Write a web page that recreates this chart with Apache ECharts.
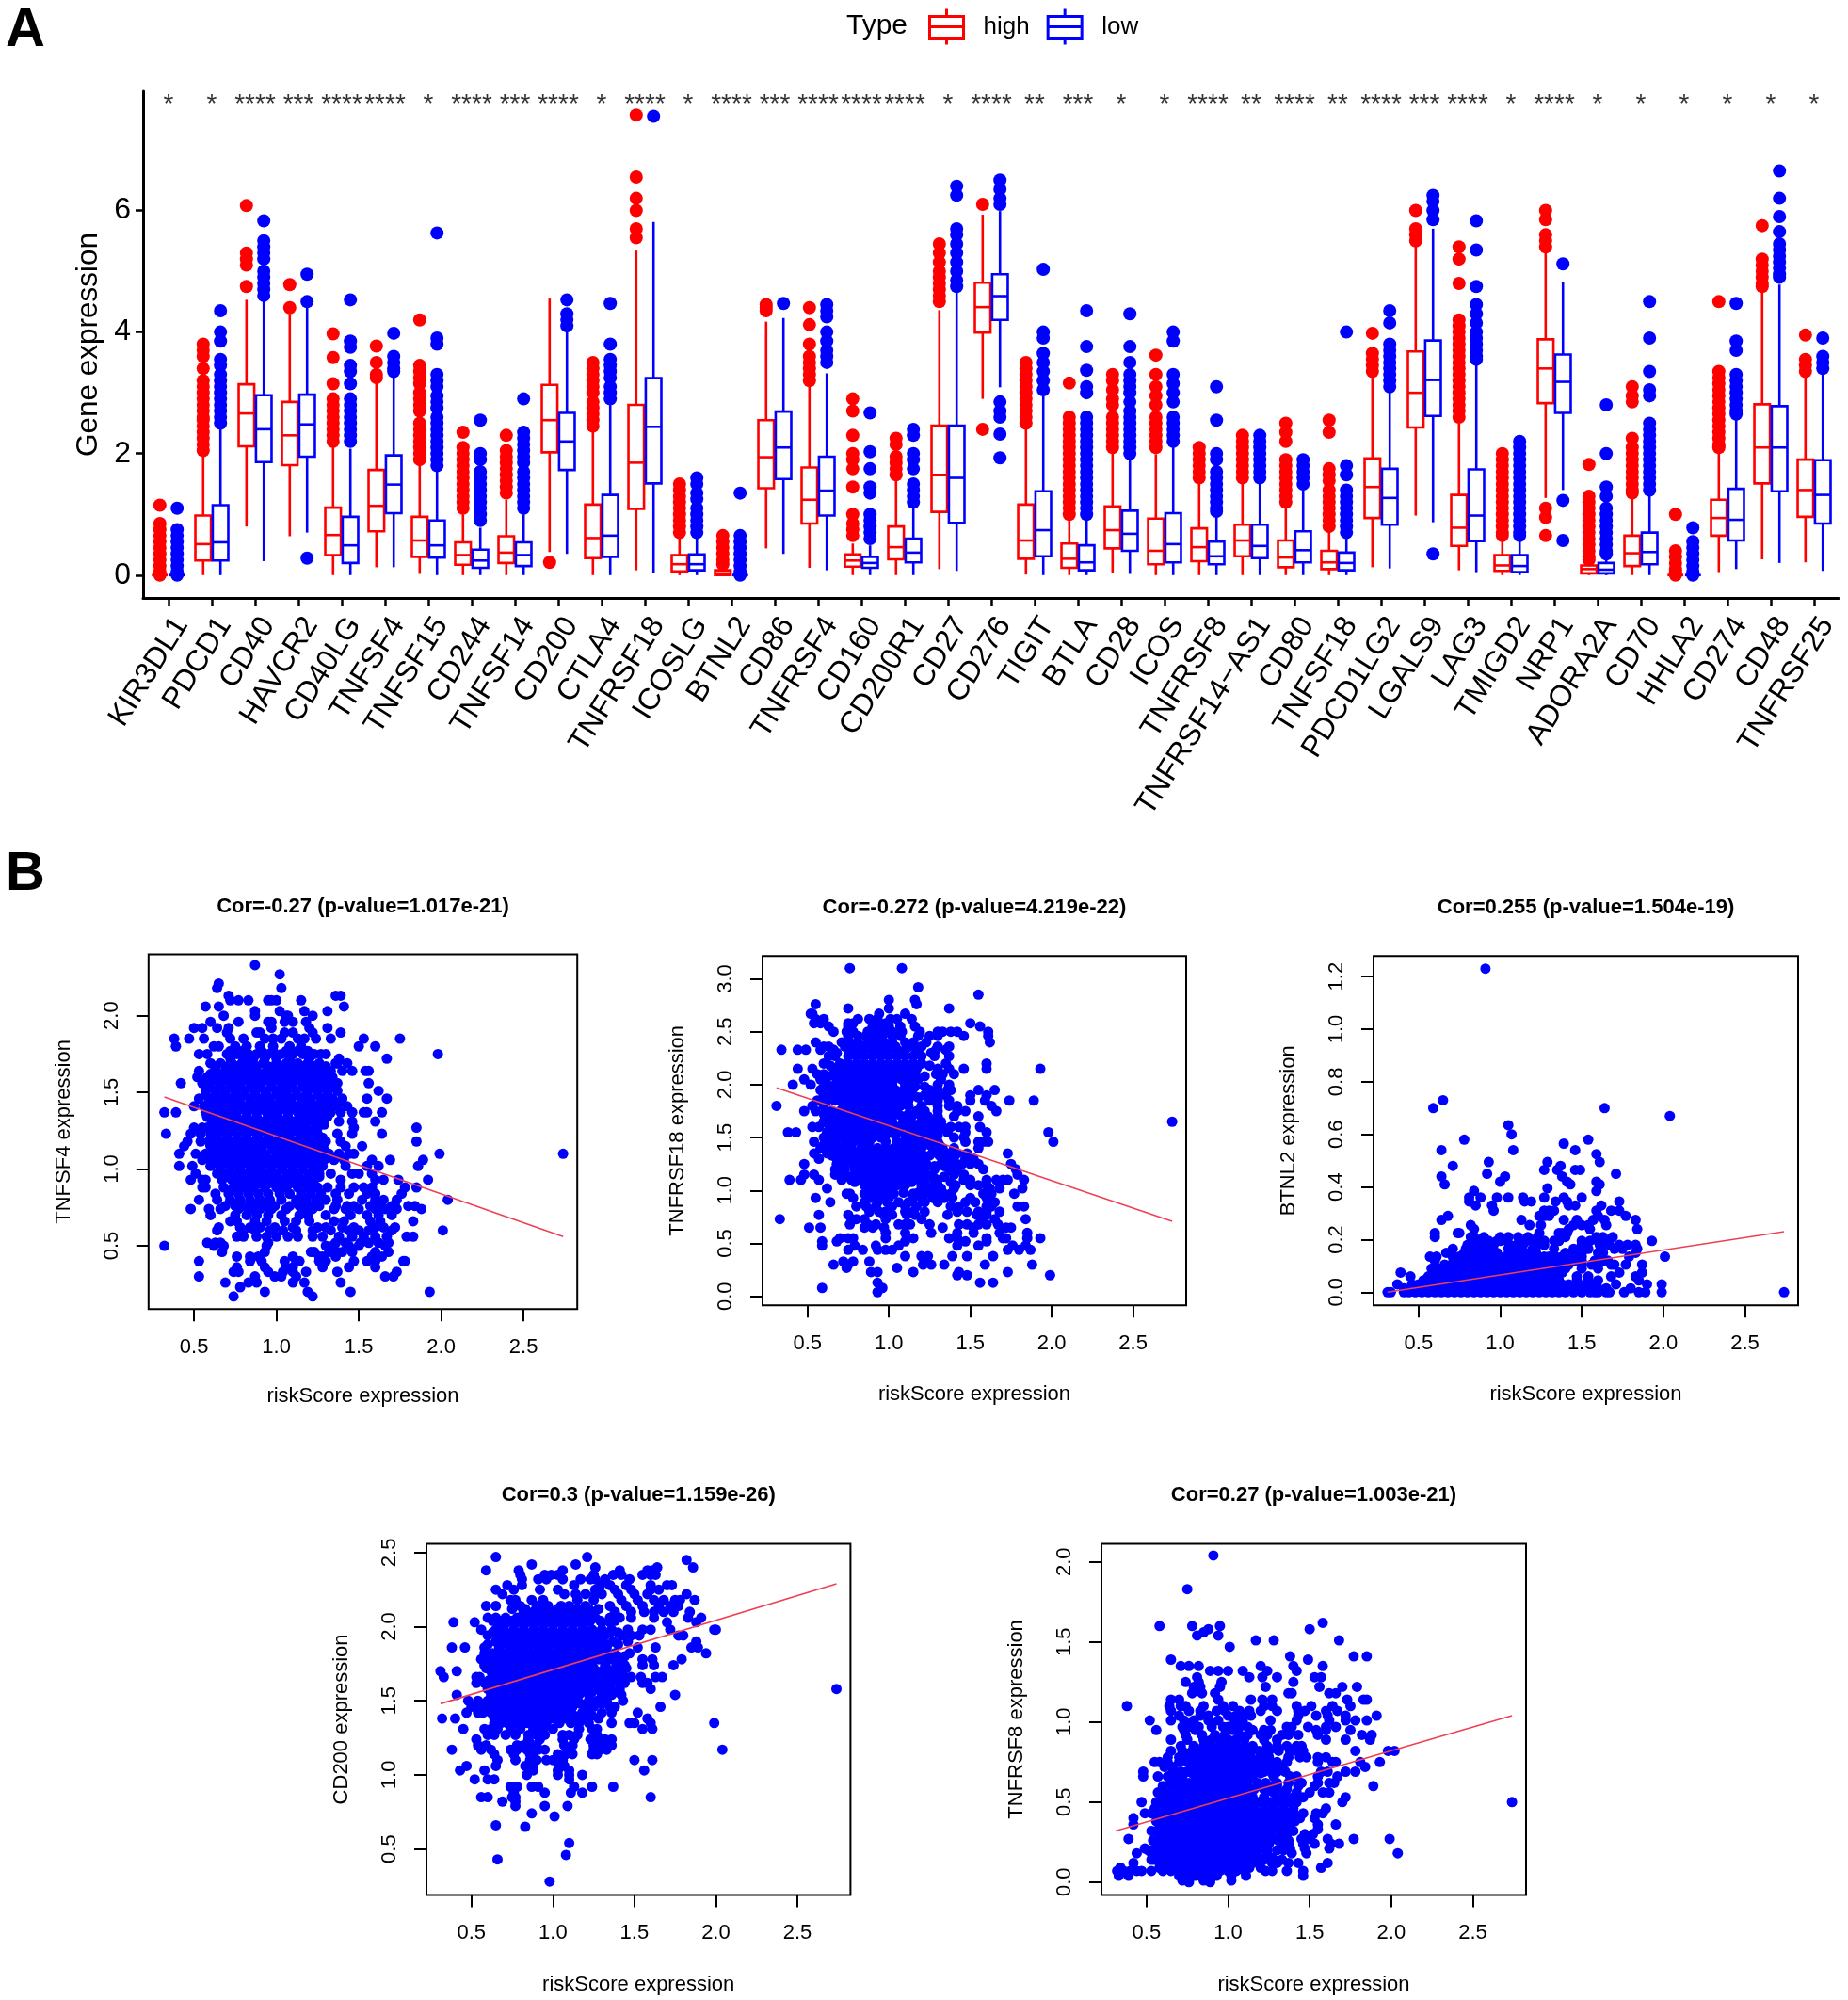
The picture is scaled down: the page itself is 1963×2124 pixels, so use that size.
<!DOCTYPE html>
<html><head><meta charset="utf-8">
<style>html,body{margin:0;padding:0;background:#fff}#c{width:1963px;height:2124px}</style>
<script src="https://cdn.jsdelivr.net/npm/echarts@6/dist/echarts.min.js"></script>
</head><body><div id="c"></div>
<script>
const genes = ['KIR3DL1','PDCD1','CD40','HAVCR2','CD40LG','TNFSF4','TNFSF15','CD244','TNFSF14','CD200','CTLA4','TNFRSF18','ICOSLG','BTNL2','CD86','TNFRSF4','CD160','CD200R1','CD27','CD276','TIGIT','BTLA','CD28','ICOS','TNFRSF8','TNFRSF14\u2212AS1','CD80','TNFSF18','PDCD1LG2','LGALS9','LAG3','TMIGD2','NRP1','ADORA2A','CD70','HHLA2','CD274','CD48','TNFRSF25'];
const stars = ['*','*','****','***','****','****','*','****','***','****','*','****','*','****','***','****','****','****','*','****','**','***','*','*','****','**','****','**','****','***','****','*','****','*','*','*','*','*','*'];
// [whisker low, Q1, median, Q3, whisker high]
const highBoxes = [[0,0,0,0,0],[0,.24,.51,.98,2],[.8,2.12,2.66,3.14,4.53],[.64,1.81,2.3,2.85,4.3],[0,.33,.66,1.11,2.15],[.13,.72,1.14,1.73,3.16],[.02,.3,.57,.96,1.86],[0,.17,.33,.54,1],[0,.2,.37,.64,1.24],[.38,2.02,2.55,3.13,4.55],[0,.28,.61,1.16,2.41],[.08,1.09,1.85,2.8,5.34],[0,.06,.18,.33,.65],[0,0,.03,.08,.13],[.44,1.43,1.94,2.55,4.17],[.12,.85,1.24,1.77,3.14],[0,.14,.24,.34,.52],[0,.26,.46,.8,1.55],[.1,1.04,1.65,2.46,4.36],[2.9,3.99,4.41,4.81,5.93],[.01,.27,.57,1.16,2.4],[0,.12,.27,.52,.98],[.03,.44,.74,1.13,2.05],[0,.18,.4,.93,1.99],[0,.23,.46,.77,1.53],[0,.31,.57,.83,1.53],[0,.13,.29,.57,1.14],[0,.1,.21,.4,.78],[.13,.94,1.45,1.92,3.29],[.98,2.43,3,3.68,5.44],[.08,.48,.78,1.32,2.5],[0,.07,.16,.33,.6],[1.27,2.83,3.4,3.88,5.37],[0,.03,.1,.16,.2],[0,.15,.36,.65,1.3],[0,0,0,0,0],[.05,.65,.94,1.24,2.02],[.26,1.51,2.1,2.81,4.69],[.21,.96,1.4,1.9,3.26]];
const lowBoxes = [[0,0,0,0,0],[0,.24,.54,1.15,2.4],[.23,1.86,2.4,2.96,4.53],[.7,1.95,2.48,2.97,4.43],[0,.2,.49,.96,2.08],[.13,1.02,1.49,1.97,3.29],[0,.29,.49,.9,1.73],[0,.12,.24,.42,.78],[0,.15,.33,.54,1],[.35,1.73,2.2,2.67,4],[0,.3,.65,1.32,2.8],[.03,1.51,2.44,3.24,5.81],[0,.08,.18,.34,.64],[0,0,0,0,0],[.35,1.58,2.1,2.69,4.23],[.08,.98,1.39,1.95,3.32],[0,.12,.2,.3,.49],[0,.21,.37,.6,1.1],[.07,.86,1.6,2.46,4.69],[3.09,4.2,4.59,4.95,5.99],[0,.31,.74,1.38,2.95],[0,.08,.21,.49,.98],[.02,.4,.68,1.06,1.95],[0,.21,.51,1.02,2.16],[0,.18,.31,.55,1.01],[0,.28,.48,.83,1.58],[0,.21,.41,.72,1.4],[0,.08,.2,.37,.68],[.11,.83,1.27,1.75,3.06],[.87,2.62,3.21,3.86,5.7],[.05,.56,.98,1.74,3.49],[0,.05,.15,.33,.6],[1.4,2.67,3.18,3.63,4.82],[0,.03,.09,.2,.3],[0,.18,.38,.7,1.37],[0,0,0,0,0],[.1,.57,.91,1.42,2.6],[.2,1.38,2.1,2.78,4.78],[.07,.85,1.32,1.89,3.36]];
const highOutliers = [[1.15,.85,.75,.65,.55,.45,.35,.25,.15,.05,0],[3.8,3.7,3.6,3.4,3.2,3.1,3,2.9,2.8,2.7,2.6,2.55,2.45,2.35,2.25,2.15,2.05],[6.08,5.3,5.2,5.1,4.75],[4.78,4.4],[3.97,3.58,3.15,2.9,2.8,2.7,2.6,2.5,2.4,2.3,2.2],[3.77,3.5,3.3,3.25],[4.2,3.45,3.35,3.25,3.15,3,2.9,2.8,2.7,2.5,2.4,2.3,2.2,2.1,2,1.9],[2.35,2.1,2,1.9,1.8,1.7,1.6,1.5,1.4,1.3,1.2,1.1],[2.3,2.05,1.95,1.85,1.75,1.65,1.55,1.45,1.35],[.21],[3.5,3.4,3.3,3.2,3.1,3,2.85,2.75,2.65,2.55,2.45],[7.57,6.55,6.2,6,5.7,5.55],[1.5,1.4,1.3,1.2,1.1,1,.9,.8,.7],[.65,.55,.45,.35,.25,.18],[4.45,4.4,4.35],[4.4,4.12,3.8,3.6,3.5,3.4,3.3,3.2],[2.9,2.7,2.3,2,1.9,1.75,1.45,1,.85,.75,.65],[2.25,2.15,1.95,1.85,1.75,1.65],[5.45,5.3,5.15,5,4.9,4.8,4.7,4.6,4.5],[6.1,2.4],[3.5,3.4,3.3,3.2,3.1,3,2.9,2.8,2.7,2.6,2.5],[3.16,2.6,2.5,2.4,2.3,2.2,2.1,2,1.9,1.8,1.7,1.6,1.5,1.4,1.3,1.2,1.1,1],[3.3,3.2,3.05,2.9,2.8,2.6,2.5,2.4,2.3,2.2,2.1],[3.62,3.3,3.1,2.95,2.8,2.6,2.5,2.4,2.3,2.2,2.1],[2.1,2,1.9,1.8,1.7,1.6],[2.3,2.2,2.1,2,1.9,1.8,1.7,1.6],[2.5,2.35,2.2,1.9,1.8,1.7,1.6,1.5,1.4,1.3,1.2],[2.55,2.35,1.75,1.65,1.55,1.4,1.3,1.2,1.1,1,.9,.8],[3.98,3.65,3.55,3.45,3.35],[6,5.7,5.6,5.5],[5.4,5.2,4.8,4.2,4.1,4,3.9,3.8,3.7,3.6,3.5,3.4,3.3,3.2,3.1,3,2.9,2.8,2.7,2.6],[2,1.9,1.8,1.7,1.6,1.5,1.4,1.3,1.2,1.1,1,.9,.8,.7,.65],[6,5.85,5.6,5.5,5.4,1.1,.95,.65],[1.82,1.3,1.2,1.1,1,.9,.8,.7,.6,.5,.4,.3,.25],[3.1,2.95,2.85,2.25,2.1,2,1.9,1.8,1.7,1.6,1.5,1.4,1.35],[1,.4,.3,.2,.1,.05,0],[4.5,3.35,3.25,3.15,3.05,2.95,2.85,2.75,2.65,2.55,2.45,2.35,2.25,2.15,2.1],[5.75,5.2,5.1,5,4.9,4.8,4.75],[3.95,3.55,3.45,3.35]];
const lowOutliers = [[1.1,.75,.65,.55,.45,.35,.25,.15,.05,0],[4.35,4,3.85,3.55,3.45,3.3,3.2,3.1,3,2.9,2.8,2.7,2.6,2.5],[5.83,5.5,5.4,5.3,5.2,5,4.9,4.8,4.7,4.6],[4.95,4.5,.28],[4.53,3.85,3.75,3.45,3.35,3.15,2.9,2.8,2.7,2.6,2.5,2.4,2.3,2.2],[3.98,3.6,3.5,3.4,3.35],[5.63,3.9,3.8,3.3,3.2,3.1,2.95,2.85,2.75,2.6,2.5,2.4,2.3,2.2,2.1,2,1.9,1.8],[2.55,2,1.9,1.7,1.6,1.5,1.4,1.3,1.2,1.1,1,.9],[2.9,2.35,2.25,2.15,2.05,1.95,1.85,1.7,1.6,1.5,1.4,1.3,1.2,1.1],[4.53,4.3,4.2,4.1],[4.47,3.8,3.55,3.45,3.35,3.25,3.1,3,2.9],[7.55],[1.6,1.5,1.35,1.25,1.1,1,.9,.8,.7],[1.35,.65,.55,.45,.35,.25,.15,.05,0],[4.47],[4.45,4.35,4.25,4,3.85,3.7,3.6,3.5],[2.67,2.03,1.75,1.45,1.35,1,.9,.8,.7,.6],[2.4,2.3,2,1.9,1.75,1.5,1.4,1.3,1.2],[6.4,6.25,5.7,5.6,5.45,5.3,5.15,5,4.85,4.75],[6.5,6.35,6.2,6.1,2.85,2.7,2.6,2.32,1.93],[5.03,4,3.9,3.65,3.5,3.35,3.2,3.05],[4.35,3.76,3.37,3.1,3,2.6,2.5,2.4,2.3,2.2,2.1,2,1.9,1.8,1.7,1.6,1.5,1.4,1.3,1.2,1.1,1],[4.3,3.76,3.5,3.3,3.2,3.1,3,2.85,2.7,2.6,2.5,2.4,2.3,2.2,2.1,2],[4,3.85,3.3,3.15,3,2.85,2.6,2.5,2.4,2.3,2.2],[3.1,2.55,2,1.9,1.7,1.6,1.5,1.4,1.3,1.2,1.1,1.05],[2.3,2.2,2.1,2,1.9,1.8,1.7,1.6],[1.9,1.8,1.7,1.6,1.5],[4,1.8,1.65,1.4,1.3,1.2,1.1,1,.9,.8,.7],[4.35,4.15,3.8,3.7,3.6,3.5,3.4,3.3,3.2,3.1],[6.25,6.15,6,5.85,.35],[5.83,5.35,4.75,4.45,4.3,4.15,4,3.9,3.8,3.7,3.6,3.55],[2.2,2.1,2,1.9,1.8,1.7,1.6,1.5,1.4,1.3,1.2,1.1,1,.9,.8,.7,.65],[5.12,1.23,.57],[2.8,2,1.45,1.3,1.1,1,.9,.8,.7,.6,.5,.4,.35],[4.5,3.9,3.35,3.05,2.95,2.5,2.4,2.3,2.2,2.1,2,1.9,1.8,1.7,1.6,1.5,1.4],[.78,.55,.45,.35,.25,.15,.05,0],[4.47,3.85,3.7,3.3,3.2,3.1,3,2.9,2.8,2.7,2.65],[6.65,6.2,5.9,5.65,5.45,5.35,5.25,5.15,5.05,4.95,4.9],[3.9,3.6,3.5,3.4]];

// scatter panels: each row is [expression, riskScore, riskScore, ...]
const tnfsf4Rows = [[2.33,.87],[2.27,1.02],[2.21,.65],[2.18,1.03,.64],[2.13,.71,1.36,1.39],[2.1,.97,.95,1,1.15,.83,.72,.77],[2.06,.57,.65,1.41],[2.03,1.02,.87,1.17,1.31],[2,.68,.87,1.06,1.22,1.07],[1.96,.6,.95,.97,.77,1.05,1.1,1.18],[1.92,.5,.55,.64,.71,.97,1.2,1.31],[1.89,.7,.88,.9,1.05,1.1,1.39,1.22],[1.85,.38,.47,.56,.72,.8,.93,.98,1.03,1.13,1.17,1.24,1.33,1.75,1.53],[1.8,.39,.62,.65,.75,.82,.9,.98,1.08,1.15,1.6,1.5],[1.75,.53,.58,.7,.76,.83,.88,.95,1.03,1.1,1.16,1.23,1.27,1.98,1.3],[1.72,.72,.8,.86,.93,1,1.08,1.2,1.38,1.67],[1.69,.6,.66,.73,.79,.85,.92,1,1.06,1.13,1.19,1.26,1.36,1.43,1.37],[1.64,.53,.63,.69,.75,.81,.87,.94,1,1.07,1.13,1.2,1.27,1.33,1.4,1.46,1.54,1.56],[1.6,.52,.58,.65,.71,.77,.83,.89,.96,1.02,1.08,1.15,1.22,1.28,1.34],[1.56,.42,.55,.6,.66,.72,.78,.85,.91,.97,1.04,1.1,1.17,1.24,1.3,1.37,1.56],[1.51,.57,.63,.69,.75,.81,.87,.93,1,1.06,1.12,1.19,1.25,1.31,1.37,1.62],[1.46,.53,.6,.66,.72,.78,.84,.9,.96,1.03,1.09,1.15,1.21,1.28,1.34,1.4,1.55,1.67],[1.41,.5,.56,.62,.68,.74,.8,.87,.93,.99,1.05,1.12,1.18,1.24,1.3,1.36,1.43],[1.37,.39,.32,.57,.63,.69,.75,.82,.88,.94,1,1.07,1.13,1.19,1.25,1.33,1.39,1.46,1.53,1.55,1.64],[1.31,.61,.67,.73,.79,.85,.91,.98,1.04,1.1,1.17,1.23,1.28,1.38,1.46,1.6],[1.27,.5,.55,.58,.65,.71,.77,.83,.9,.96,1.02,1.09,1.15,1.25,1.47,1.85],[1.23,.33,.48,.54,.6,.64,.7,.76,.82,.88,.95,1.01,1.07,1.14,1.2,1.25,1.37,1.46,1.64],[1.18,.46,.54,.59,.62,.68,.74,.8,.86,.92,.99,1.05,1.11,1.18,1.3,1.39,1.85],[1.15,.44,.6,.66,.72,.78,.84,.9,.97,1.03,1.09,1.16,1.22,1.28,1.42,1.52],[1.1,.41,.51,.57,.63,.69,.75,.81,.87,.93,1,1.06,1.12,1.19,1.25,1.32,1.38,1.44,1.47,1.99,2.74],[1.06,.55,.6,.66,.72,.79,.85,.91,.98,1.04,1.1,1.17,1.23,1.29,1.35,1.41,1.58,1.89,1.69],[1.02,.41,.49,.6,.66,.72,.78,.84,.9,.97,1.03,1.1,1.16,1.22,1.28,1.42,1.62,1.86,1.55],[.97,.51,.64,.7,.76,.82,.88,.94,1,1.07,1.13,1.2,1.26,1.33,1.46,1.5,1.58],[.93,.48,.57,.55,.67,.73,.79,.85,.91,.97,1.04,1.1,1.17,1.23,1.39,1.6,1.65,1.92,1.74],[.88,.55,.57,.68,.74,.8,.86,.93,1,1.06,1.13,1.19,1.25,1.31,1.39,1.47,1.53,1.58,1.85,1.78],[.84,.63,.71,.77,.83,.89,.95,1.02,1.08,1.15,1.21,1.27,1.36,1.44,1.55,1.6,1.76],[.8,.53,.64,.72,.78,.84,.9,.96,1.03,1.12,1.18,1.24,1.3,1.37,1.52,1.6,1.65,1.73,2.04],[.76,.69,.75,.8,.87,.93,.99,1.08,1.14,1.2,1.26,1.36,1.43,1.47,1.57,1.63,1.7,1.72,1.8,1.84],[.74,.48,.59,.66,.77,.84,.9,.97,1.06,1.16,1.22,1.35,1.42,1.5,1.6,1.66,1.73,1.88],[.7,.6,.75,.82,.88,.95,1.03,1.14,1.19,1.3,1.45,1.55,1.62,1.7],[.66,.72,.76,.87,.94,1.05,1.12,1.2,1.35,1.41,1.57,1.63,1.83],[.62,.65,.78,.84,.9,.99,1.1,1.25,1.3,1.4,1.47,1.6,1.65,1.72],[.6,.64,.8,.87,.96,1.04,1.12,1.22,1.33,1.44,1.5,1.56,1.7,2.01],[.56,.76,.8,.88,.94,1,1.07,1.13,1.22,1.28,1.38,1.46,1.53,1.6,1.67,1.79,1.83],[.52,.58,.63,.66,.95,1.36,1.42,1.51,1.56,1.62,1.68],[.5,.32,.62,.68,.94,1.3,1.34,1.44,1.5,1.66],[.46,.67,.93,1.21,1.23,1.32,1.37,1.4,1.46,1.6,1.68],[.43,.76,.84,.89,1.1,1.26,1.28,1.36,1.58,1.64],[.4,.53,.84,.91,1.05,1.12,1.14,1.26,1.3,1.47,1.55,1.6,1.78,1.77],[.36,.93,.76,1.06,1.1,1.28,1.44,1.6],[.33,.74,.77,.95,1.04,1.18,1.1,1.37,1.73],[.3,.53,.87,.99,1.03,1.12,1.71,1.66],[.26,.69,.83,.88,1.1,1.17,1.39],[.23,.78],[.2,.93,1.19,1.45,1.93],[.17,.74,1.22]];
const tnfsf4CoreRows = [[1.77,.72,.79,.91,.98,1.06,1.13,1.19],[1.67,.63,.7,.76,.82,.88,.95,1.03,1.1,1.16,1.23,1.3],[1.62,.6,.67,.73,.79,.85,.91,.98,1.04,1.11,1.18,1.25,1.31],[1.58,.62,.69,.75,.8,.86,.93,.99,1.06,1.13,1.19,1.26,1.33],[1.535,.6,.66,.72,.78,.84,.9,.97,1.03,1.09,1.16,1.22,1.28,1.34],[1.485,.57,.63,.69,.75,.81,.87,.94,1,1.06,1.12,1.18,1.25,1.31],[1.435,.59,.65,.71,.77,.84,.9,.96,1.02,1.08,1.15,1.21,1.27,1.33,1.39],[1.39,.6,.66,.72,.78,.85,.91,.97,1.03,1.1,1.16,1.22,1.28],[1.34,.58,.64,.7,.76,.82,.88,.95,1.01,1.07,1.14,1.2,1.26,1.31],[1.29,.62,.68,.74,.8,.87,.93,.99,1.05,1.12,1.18,1.24,1.29],[1.25,.62,.68,.74,.8,.86,.92,.98,1.04,1.11,1.17,1.22],[1.205,.64,.7,.76,.82,.89,.95,1.02,1.08,1.15,1.22,1.28],[1.165,.65,.7,.75,.81,.87,.93,1,1.06,1.12,1.19,1.25],[1.125,.62,.67,.73,.79,.85,.91,.98,1.04,1.1,1.16,1.22,1.29],[1.08,.63,.69,.75,.81,.87,.94,1.01,1.07,1.14,1.2,1.26,1.32],[1.04,.63,.69,.75,.81,.87,.93,1,1.06,1.13,1.19,1.25],[.995,.66,.72,.78,.85,.91,.97,1.04,1.1,1.16,1.23],[.95,.7,.76,.82,.88,.94,1,1.07,1.13,1.2,1.26],[.905,.76,.83,.89,.95,1.02,1.08,1.15,1.21]];
const tnfrsf18Rows = [[3.1,.76,1.08],[2.92,1.18],[2.85,1.55],[2.8,1,1.16],[2.76,.55,1.17],[2.72,.75,1,1.37],[2.67,.53,.52,.94,1.1],[2.62,.55,.6,.81,.88,.93,1.01,1.05,1.14],[2.58,.54,.58,.75,.78,.93,.98,1.5],[2.55,.63,.75,.9,.95,1,1.07,1.16,1.56],[2.5,.66,.74,.78,.87,.92,.97,1.02,1.08,1.19,1.3,1.38,1.42,1.33,1.61],[2.46,.75,.81,.86,.91,.96,1.02,1.07,1.18,1.25,1.3,1.46,1.61],[2.4,.55,.71,.76,.81,.87,.92,.97,1.02,1.1,1.15,1.23,1.62],[2.36,.6,.63,.73,.78,.83,.88,.94,.99,1.04,1.13,1.2,1.3,1.37],[2.33,.34,.44,.49,.58,.66,.75,.8,.85,.9,.95,1,1.05,1.1,1.17,1.29,1.35],[2.27,.63,.67,.75,.8,.85,.9,.95,1,1.05,1.1,1.15,1.2,1.28,1.37],[2.2,.6,.7,.75,.8,.85,.9,.95,1,1.05,1.1,1.15,1.2,1.35,1.6],[2.15,.44,.53,.67,.72,.77,.82,.87,.92,.97,1.02,1.07,1.12,1.17,1.3,1.37,1.46,1.6,1.93],[2.1,.56,.6,.66,.71,.76,.81,.86,.91,.96,1.01,1.06,1.11,1.16,1.29,1.33,1.4],[2.05,.48,.58,.68,.73,.78,.83,.88,.93,.98,1.03,1.08,1.13,1.18,1.32],[2,.41,.52,.62,.67,.72,.77,.82,.87,.92,.97,1.02,1.1,1.15,1.3,1.37],[1.95,.58,.63,.69,.74,.79,.84,.89,.94,.99,1.04,1.09,1.14,1.25,1.3,1.36,1.38,1.55,1.65],[1.9,.6,.65,.7,.75,.8,.85,.9,.95,1,1.05,1.1,1.15,1.22,1.3,1.35,1.5,1.6],[1.85,.56,.62,.67,.72,.77,.82,.87,.92,.97,1.02,1.07,1.12,1.25,1.3,1.37,1.5,1.59,1.89,1.74],[1.8,.31,.53,.6,.72,.77,.82,.87,.92,.97,1.02,1.07,1.12,1.2,1.3,1.37,1.42,1.63],[1.75,.48,.55,.65,.7,.75,.8,.85,.9,.95,1,1.05,1.17,1.22,1.3,1.42,1.47,1.66],[1.7,.65,.69,.74,.79,.84,.89,.94,.99,1.08,1.14,1.24,1.3,1.4,1.55],[1.65,.6,.67,.72,.77,.82,.87,.92,.97,1.02,1.12,1.2,1.27,1.32,2.74],[1.6,.53,.57,.66,.71,.76,.81,.86,.91,.96,1.04,1.12,1.2,1.27,1.33,1.38,1.43,1.47,1.56],[1.55,.38,.43,.62,.68,.73,.78,.83,.88,.93,.98,1.17,1.24,1.3,1.36,1.47,1.6,1.98],[1.5,.6,.66,.7,.75,.8,.84,.9,.95,1.12,1.18,1.27,1.4,1.46],[1.46,.54,.62,.67,.73,.78,.83,.88,.98,1.05,1.1,1.17,1.23,1.3,1.47,1.55,1.58,1.61,2.01],[1.4,.58,.65,.71,.77,.83,.88,.93,.98,1.03,1.08,1.14,1.2,1.27,1.33,1.4,1.55],[1.35,.54,.62,.67,.74,.79,.84,.89,.94,.99,1.04,1.09,1.15,1.2,1.3,1.36,1.42,1.48,1.73],[1.3,.57,.68,.76,.81,.86,.91,.96,1.01,1.06,1.12,1.17,1.22,1.35,1.4,1.47,1.52],[1.25,.48,.68,.72,.78,.83,.88,.93,.98,1.03,1.08,1.13,1.18,1.23,1.32,1.38,1.45,1.5,1.55,1.75],[1.2,.67,.73,.79,.84,.89,.94,.99,1.04,1.09,1.14,1.19,1.28,1.37,1.42,1.58,1.78],[1.15,.48,.54,.67,.72,.8,.85,.9,.95,1,1.05,1.12,1.18,1.23,1.4,1.46,1.79],[1.1,.39,.46,.57,.71,.77,.83,.88,.93,.98,1.03,1.15,1.2,1.3,1.46,1.5,1.6,1.66,1.7,1.73,1.83],[1.05,.85,.9,.96,1,1.05,1.1,1.2,1.3,1.41,1.5,1.55,1.6],[1.02,.62,.87,.92,.97,1,1.25,1.32,1.4,1.62,1.68,1.82],[.97,.74,.76,.85,.98,1.03,1.15,1.22,1.29,1.38,1.58,1.63,1.77],[.93,.55,.78,.89,.94,1,1.15,1.2,1.27,1.34,1.39,1.5,1.6],[.89,.64,.85,.93,.99,1.06,1.12,1.22,1.3,1.47,1.53,1.65,1.62],[.85,.8,.86,.92,1.02,1.1,1.17,1.38,1.43,1.6,1.63,1.79,1.83],[.8,.98,.88,.94,1.1,1.15,1.22,1.42,1.48,1.55,1.6,1.68],[.77,.57,.75,.97,1.02,1.11,1.16,1.36,1.54,1.6],[.73,.33,.77,.8,.85,.98,1.2,1.58,1.65,1.84],[.68,.76,.87,.92,1.06,1.1,1.13,1.25,1.43,1.48,1.55,1.6,1.67],[.65,.51,.58,.85,.9,.97,1.33,1.52,1.72,1.75],[.6,.98,1.1,1.26,1.42,1.52,1.68,1.85],[.55,.78,.75,.7,.98,1.15,1.37,1.42,1.6,1.7,1.72,1.85,1.93],[.52,.68,.59,1.1,1.6,1.47],[.48,.59,.79,.92,1.06,1.42,1.55,1.76,1.84],[.44,.75,.84,.93,.98,1.02,1.73,1.87,1.8],[.38,1.1,1.2,1.24,1.39,1.48,1.64],[.33,.72,.78,.88,1.22],[.3,.66,.75,1.21,1.26,1.34,1.59,1.88],[.27,.74,1.05],[.23,.89,.93,1.15,1.43,1.73],[.2,1.48,1.42,1.99],[.13,.93,1.56,1.64],[.08,.59,.96],[.04,.93]];
const tnfrsf18CoreRows = [[2.3,.68,1.18,1.26],[2.18,.64,1.18,1.25],[2.08,.63,1.16,1.22],[1.98,.6,1.16,1.22],[1.88,.68,1.18,1.27],[1.72,.6,.63,1.05,1.12,1.19],[1.62,.63,1.02,1.08,1.16,1.24],[1.57,.64,.7,1,1.06,1.14,1.22],[1.52,.66,.72,.98,1.04,1.1,1.22,1.3],[1.43,.6,.67,.75,1.12,1.18,1.25,1.31],[1.33,.65,.71,1.25,1.31,1.38],[1.23,.71,1.23,1.28,1.34,1.42],[1.13,.76,.84,1.09,1.15,1.27,1.34],[1.08,.79,.86,1.08,1.14,1.22,1.28,1.38],[.98,.9,.95,1.09,1.18,1.26,1.33]];
const btnl2Rows = [[1.23,.91],[.73,.65],[.7,.59,1.64],[.67,2.04],[.635,1.05],[.6,1.07],[.58,.78,1.54],[.565,1.39],[.54,.64,1.08,1.46],[.525,1.59],[.495,.93,1.29,1.61],[.48,.71,1.37],[.465,1.27,1.35,1.46,1.49],[.45,.92,1.71],[.44,.64,1.03,1.38],[.42,1,1.41,1.59],[.41,.66,1.43,1.61],[.395,1.29],[.385,.84,1.59],[.36,.81,.88,.98,1.05,1.14,1.27,1.39,1.5],[.345,.81,1.15,1.19,1.34,1.41,1.73],[.33,.95,1.42,1.46,1.62,.85],[.31,.96,1.33,1.3,1.27,1.59,1.68,1.73],[.29,.68,1.24,1.27,1.3,1.6,1.77],[.275,.64,1.13,1.39,1.64,1.83,1.57,1.47],[.255,.82,1.18,1.25,1.45,1.5,1.65,1.54],[.24,.84,1.42,1.55,1.84],[.225,.6,.74,.75,1.36,1.38,1.41,1.24],[.21,.6,.84,.82,.9,1,1.05,1.11,1.17,1.23,1.4,1.59,1.63,1.69],[.195,.83,.87,.93,.98,1,1.04,1.16,1.2,1.27,1.33,1.36,1.5,1.55,1.6,1.66,1.93],[.18,.8,.84,.88,.92,.96,1.06,1.1,1.14,1.23,1.27,1.5,1.61,1.67,1.73,1.78,1.83],[.165,.71,.79,.83,.87,.91,.95,1.05,1.09,1.13,1.2,1.33,1.45,1.54,1.62,1.7,1.75,1.84],[.15,.67,.78,.82,.86,.9,.94,.98,1.06,1.1,1.14,1.18,1.22,1.4,1.5,1.6,1.63,1.83],[.135,.57,.61,.71,.75,.79,.83,.87,.91,.95,.99,1.03,1.07,1.11,1.15,1.19,1.23,1.27,1.3,1.34,1.38,1.42,1.46,1.5,1.79,2.01],[.12,.6,.72,.76,.8,.84,.88,.92,.96,1,1.04,1.08,1.12,1.16,1.2,1.24,1.28,1.32,1.36,1.4,1.46,1.5,1.58,1.63,1.66],[.105,.66,.7,.74,.78,.82,.86,.9,.94,.98,1.02,1.06,1.1,1.14,1.18,1.22,1.26,1.3,1.34,1.38,1.42,1.5,1.56,1.6,1.68,1.7,1.77,1.87],[.09,.58,.62,.68,.72,.76,.8,.84,.88,.92,.96,1,1.04,1.08,1.12,1.16,1.2,1.24,1.28,1.32,1.36,1.4,1.5,1.6],[.075,.39,.6,.66,.7,.74,.78,.82,.86,.9,.94,.98,1.02,1.06,1.1,1.14,1.18,1.22,1.26,1.3,1.34,1.38,1.73,1.87],[.06,.45,.56,.63,.67,.71,.75,.79,.83,.87,.91,.95,.99,1.03,1.07,1.11,1.15,1.19,1.23,1.27,1.31,1.35,1.47,1.54,1.68,1.83],[.045,.53,.6,.64,.68,.72,.76,.8,.84,.88,.92,.96,1,1.04,1.08,1.12,1.16,1.2,1.24,1.28,1.32,1.36,1.47,1.54,1.6,1.85],[.03,.37,.46,.5,.54,.58,.62,.66,.7,.74,.78,.82,.86,.9,.94,.98,1.02,1.06,1.1,1.14,1.18,1.22,1.26,1.3,1.34,1.38,1.42,1.52,1.56,1.9,1.99,1.71],[.015,.41,.45,.49,.53,.57,.61,.65,.69,.73,.77,.81,.85,.89,.93,.97,1.01,1.05,1.09,1.13,1.17,1.21,1.25,1.29,1.33,1.37,1.41,1.47,1.55,1.6,1.65,1.8],[0,.31,.33,.41,.44,.48,.52,.56,.6,.64,.68,.72,.76,.8,.84,.88,.92,.96,1,1.04,1.08,1.12,1.16,1.2,1.24,1.28,1.32,1.36,1.4,1.45,1.5,1.55,1.58,1.6,1.65,1.67,1.76,1.85,1.89,1.99,2.74]];
const cd200Rows = [[2.47,.65,1.21],[2.45,1.82],[2.42,1.14,.87],[2.4,1.26,1.86,1.64],[2.38,.59,.79,1.06,1.41,1.61,1.58],[2.35,.8,.95,.99,1.03,1.25,1.37,1.42,1.55,1.63,1.6],[2.32,.81,.91,.96,1.23,1.26,1.17,1.06,1.32,1.47],[2.28,.72,.81,1.13,1.29,1.35,1.45,1.6,1.7,1.73],[2.25,.65,.76,.92,1.03,1.26,1.38,1.48,1.6,1.65],[2.22,.69,1.07,1.14,1.2,1.26,1.3,1.4,1.5,1.58,1.82],[2.18,.77,.87,.94,.74,1.15,1.25,1.42,1.52,1.62,1.68,1.75,1.87,1.78],[2.14,.59,.65,.8,.9,.97,1.05,1.1,1.2,1.35,1.45,1.55,1.65,1.72,1.77],[2.1,.82,.88,.94,1,1.06,1.12,1.18,1.24,1.38,1.48,1.56,1.62,1.68,1.74,1.84],[2.06,.6,.65,.71,.78,.84,.9,.96,1.02,1.08,1.14,1.2,1.26,1.35,1.41,1.48,1.62,1.83,1.91],[2.03,.39,.52,.66,.72,.78,.84,.9,.96,1.02,1.08,1.14,1.2,1.3,1.35,1.7,1.88],[1.98,.56,.65,.7,.76,.82,.88,.94,1,1.06,1.12,1.18,1.24,1.3,1.36,1.46,1.55,1.6,1.72,1.99,2],[1.94,.6,.66,.72,.78,.84,.9,.96,1.02,1.08,1.14,1.2,1.26,1.32,1.42,1.48,1.53,1.77,1.8],[1.9,.65,.7,.76,.82,.88,.94,1,1.06,1.12,1.18,1.24,1.3,1.37,1.46,1.88],[1.86,.38,.46,.58,.67,.73,.79,.85,.91,.97,1.03,1.09,1.15,1.21,1.27,1.33,1.52,1.63,1.85,1.89],[1.82,.58,.63,.69,.75,.81,.87,.93,.99,1.05,1.11,1.17,1.23,1.3,1.38,1.47,1.94],[1.78,.56,.62,.68,.74,.8,.86,.92,.98,1.04,1.1,1.16,1.22,1.28,1.36,1.42,1.55,1.61,1.79],[1.74,.58,.64,.7,.76,.82,.88,.94,1,1.06,1.12,1.18,1.24,1.32,1.39,1.44,1.55,1.62,1.74],[1.7,.31,.41,.62,.68,.74,.8,.86,.92,.98,1.04,1.1,1.16,1.22,1.3,1.36,1.42],[1.66,.33,.53,.55,.66,.72,.78,.84,.9,.96,1.02,1.08,1.14,1.2,1.26,1.32,1.38,1.44,1.48,1.54,1.63,1.67],[1.62,.53,.58,.64,.7,.76,.82,.88,.94,1,1.06,1.12,1.18,1.24,1.3,1.36,1.44,1.55,1.58],[1.58,.6,.66,.72,.78,.84,.9,.96,1.02,1.08,1.14,1.2,1.27,1.34,1.41,1.6,2.74],[1.54,.41,.62,.68,.74,.8,.86,.92,.98,1.04,1.1,1.16,1.22,1.3,1.36,1.42,1.75],[1.5,.48,.54,.6,.66,.72,.78,.84,.9,.96,1.02,1.08,1.14,1.22,1.27,1.33,1.43],[1.46,.5,.53,.58,.64,.7,.76,.82,.88,.94,1,1.06,1.12,1.2,1.25,1.35,1.38,1.66],[1.42,.54,.57,.47,.62,.68,.74,.8,.86,.92,.98,1.04,1.1,1.18,1.21,1.36,1.52,1.3],[1.38,.32,.4,.64,.7,.76,.82,.88,.94,1,1.08,1.15,1.2,1.28,1.58],[1.35,.64,.68,.72,.78,.84,.9,.96,1.04,1.11,1.16,1.22,1.36,1.47,1.5,1.6,1.99],[1.31,.45,.58,.62,.66,.74,.8,.88,.94,1,1.16,1.24,1.27,1.55,1.61],[1.27,.6,.64,.71,.77,.85,.9,.95,1.06,1.1,1.15,1.27],[1.24,.53,.85,.92,1.06,1.13,1.23,1.29,1.36,1.32],[1.2,.54,.59,.78,.82,.88,.9,1.07,1.12,1.25,1.3,1.36,1.33],[1.17,.38,.56,.62,.74,.78,.84,.91,.95,1.1,1.25,1.29,1.33,2.04],[1.14,.64,.76,.86,.88,1.03,1.08,1.12,1.24,1.27],[1.1,.66,.77,.86,.9,.96,1,1.06,1.5,1.61],[1.06,.47,.65,.83,.88,1.04,1.07],[1.03,.43,.58,.88,1.03,1.1,1.56],[1,.84,1.03,1.1,1.18],[.97,.52,.6,.64,1.1],[.92,.74,.78,.87,.91,1.13,1.24,1.37],[.88,.95,1.11,1.18,.76],[.85,.56,.6,.75,.77,1.6],[.82,.69,.77],[.79,.95,.77,1.09],[.74,.87],[.72,1.01],[.66,.65],[.65,.83],[.54,1.1],[.46,1.08],[.43,.66],[.28,.98]];
const cd200CoreRows = [[2.12,.75,.83,.93,1.03,1.09,1.15,1.22,1.28],[2.04,.63,.69,.75,.81,.87,.93,.99,1.05,1.11,1.17,1.23,1.29,1.38],[1.96,.63,.69,.75,.81,.87,.93,.99,1.05,1.11,1.17,1.23,1.29,1.35,1.4],[1.88,.6,.67,.73,.79,.85,.91,.97,1.03,1.09,1.15,1.21,1.27,1.33,1.4],[1.8,.6,.66,.72,.78,.84,.9,.96,1.02,1.08,1.14,1.2,1.26,1.33,1.4,1.44],[1.72,.59,.65,.71,.77,.83,.89,.95,1.01,1.07,1.13,1.19,1.25,1.33,1.39,1.45],[1.64,.61,.67,.73,.79,.85,.91,.97,1.03,1.09,1.15,1.21,1.27,1.33,1.4],[1.56,.63,.69,.75,.81,.87,.93,.99,1.05,1.11,1.17,1.24,1.31,1.38],[1.48,.63,.69,.75,.81,.87,.93,.99,1.05,1.11,1.17,1.3],[1.4,.66,.72,.78,.84,.9,.96,1.02,1.07,1.13,1.19,1.24]];
const tnfrsf8Rows = [[2.04,.91],[1.83,.75],[1.62,1.58],[1.6,.58,.78,.95],[1.58,.88,1.5],[1.56,.85],[1.54,.81,.94],[1.51,1.17,1.28,1.68],[1.47,1.01],[1.41,1.38,1.77,1.85],[1.39,.65,1.49],[1.35,.71,.76,.82,1.2,1.4,1.58],[1.32,.89,.94,1,1.09,1.24,1.42],[1.28,.81,1.13,1.53,1.57,1.21,1.3],[1.25,.74,.82,.96,1.4],[1.22,.79,.83,.95,1.23,1.7,1.79,1.56],[1.18,.78,.84,.92,1.37,1.39,1.62,1.66],[1.14,.7,.65,.94,1.14,1.21,1.27,1.73,1.83,1.85],[1.1,.38,.64,.71,.74,.85,.97,1.03,1.22,1.27,1.42,1.51,1.64,1.75],[1.07,.65,.76,.83,.93,.98,1.07,1.13,1.2,1.3,1.43,1.47,1.6,1.67],[1.04,.7,.83,.88,1,1.05,1.1,1.14,1.43,1.54,1.61,1.72,1.91],[1.01,.52,.65,.73,.79,.88,.94,1.04,1.09,1.26,1.42,1.62,1.72,1.78,1.85],[.97,.72,.76,.82,.9,.97,1,1.07,1.12,1.36,1.39,1.49,1.6,1.66],[.95,.56,.73,.8,1.03,1.15,1.22,1.26,1.38,1.54,1.6,1.75],[.92,.74,.84,.92,.98,1.07,1.12,1.2,1.24,1.33,1.37,1.43,1.55,1.82,1.88],[.89,.65,.75,.85,.9,.95,1,1.05,1.1,1.22,1.3,1.6,1.72,1.87],[.85,.71,.79,.85,.9,.95,1,1.05,1.1,1.15,1.24,1.3,1.36,1.42,1.45],[.82,.65,.72,.78,.84,.89,.94,.99,1.04,1.09,1.14,1.19,1.25,1.31,1.38,1.42,1.46,1.78,1.98,2.02],[.78,.63,.7,.74,.79,.84,.89,.94,.99,1.04,1.09,1.14,1.2,1.25,1.37,1.44,1.48,1.55,1.6],[.75,.55,.58,.63,.7,.75,.8,.86,.91,.96,1.01,1.06,1.11,1.16,1.21,1.26,1.3,1.36,1.55,1.64,1.66,1.81,1.93],[.72,.61,.66,.78,.83,.88,.93,.98,1.03,1.08,1.13,1.18,1.23,1.28,1.33,1.84],[.69,.48,.71,.75,.82,.87,.92,.97,1.02,1.07,1.12,1.17,1.22,1.3,1.35,1.57,1.61,1.72,1.78],[.66,.48,.57,.63,.68,.72,.8,.85,.9,.95,1,1.05,1.1,1.15,1.28,1.38,1.42,1.55,1.67],[.62,.65,.7,.76,.82,.87,.92,.97,1.02,1.07,1.12,1.18,1.23,1.3,1.37,1.45,1.55,1.62,1.65],[.6,.6,.66,.71,.76,.81,.86,.91,.96,1.01,1.06,1.11,1.2,1.27,1.3,1.43,1.53,1.89],[.56,.57,.62,.68,.73,.78,.83,.88,.93,.98,1.03,1.08,1.13,1.23,1.28,1.35,1.42,1.5,1.58,1.62],[.53,.6,.65,.7,.75,.8,.85,.9,.95,1,1.05,1.1,1.15,1.22,1.3,1.35,1.4,1.46,1.72],[.5,.47,.59,.64,.69,.74,.79,.84,.89,.94,.99,1.04,1.09,1.14,1.2,1.26,1.32,1.38,1.42,1.7,2.74],[.46,.55,.6,.66,.71,.76,.81,.86,.91,.96,1.01,1.06,1.11,1.16,1.22,1.28,1.34,1.4,1.6],[.43,.49,.53,.57,.68,.73,.78,.83,.88,.93,.98,1.03,1.08,1.13,1.18,1.24,1.3,1.36,1.46,1.54,1.58],[.4,.42,.63,.7,.75,.8,.85,.9,.95,1,1.05,1.1,1.15,1.2,1.26,1.32,1.37,1.44,1.53],[.36,.42,.6,.66,.71,.76,.81,.86,.91,.96,1.01,1.06,1.11,1.16,1.21,1.27,1.33,1.38,1.66,1.55],[.33,.58,.63,.68,.73,.78,.83,.88,.93,.98,1.03,1.08,1.13,1.18,1.23,1.3,1.35,1.55],[.3,.6,.65,.7,.75,.8,.85,.9,.95,1,1.05,1.1,1.15,1.2,1.25,1.32,1.36,1.47,1.52],[.27,.39,.57,.62,.67,.72,.77,.82,.87,.92,.97,1.02,1.07,1.12,1.17,1.22,1.28,1.35,1.45,1.5,1.61,1.77,1.99],[.24,.6,.65,.7,.75,.8,.85,.9,.95,1,1.05,1.1,1.15,1.2,1.25,1.33,1.37,1.46,1.53,1.63,1.68],[.21,.49,.56,.62,.67,.72,.77,.82,.87,.92,.97,1.02,1.07,1.12,1.17,1.22,1.38,1.47,1.62],[.18,.44,.53,.6,.65,.7,.75,.8,.85,.9,.95,1,1.05,1.1,1.15,1.24,1.39,1.48,2.04],[.15,.57,.62,.67,.72,.77,.82,.87,.92,.97,1.02,1.07,1.12,1.18,1.22,1.27],[.12,.42,.6,.65,.7,.75,.8,.85,.9,.95,1,1.05,1.1,1.15,1.19,1.27,1.3,1.37,1.43,1.61],[.09,.34,.58,.63,.68,.73,.78,.83,.88,.93,.98,1.03,1.09,1.13,1.2,1.57],[.07,.32,.36,.4,.44,.47,.53,.6,.65,.7,.75,.8,.85,.9,.95,1,1.05,1.1,1.23,1.27,1.36,1.46],[.04,.33,.39,.7,.75,.8,.83,.87,.93,1.02,1.11,1.46],[.01,.72,.76,.85,.89,1.02],[0,.76,.89]];
const tnfrsf8CoreRows = [[.8,.75,.82,.87,.92,1.02,1.12,1.22],[.68,.66,.73,.78,.84,.94,1.04,1.14,1.2,1.27],[.58,.6,.7,.8,.9,1,1.1,1.16,1.22,1.3,1.36],[.5,.56,1.18,1.23,1.29,1.35],[.44,.6,.64,1.16,1.22,1.28,1.34,1.4],[.38,.56,.61,.66,1.12,1.18,1.24,1.3,1.35,1.41],[.32,.53,.56,1.2,1.26,1.33,1.4],[.26,.54,1.2,1.25,1.31,1.37],[.2,.51,.54,1.18,1.24,1.3,1.34],[.14,.53,.55,1.16,1.22,1.28,1.33]];

const FONT = '"Liberation Sans",Arial,sans-serif';
const RED = '#ff0000', BLUE = '#0000ff';
const panels = [
  {rows:[...tnfsf4Rows,...tnfsf4CoreRows], trend:[[.32,1.47],[2.74,.56]], title:'Cor=-0.27 (p-value=1.017e-21)', ylabel:'TNFSF4 expression', rect:[157.8,1013.5,455.4,376.8], y:[.087,2.4], ticks:[.5,1,1.5,2], xGap:82},
  {rows:[...tnfrsf18Rows,...tnfrsf18CoreRows], trend:[[.31,1.97],[2.74,.71]], title:'Cor=-0.272 (p-value=4.219e-22)', ylabel:'TNFRSF18 expression', rect:[810,1015.3,450,371], y:[-.085,3.215], ticks:[0,.5,1,1.5,2,2.5,3], xGap:84},
  {rows:btnl2Rows, trend:[[.31,0],[2.74,.23]], title:'Cor=0.255 (p-value=1.504e-19)', ylabel:'BTNL2 expression', rect:[1459,1015.3,451,371], y:[-.05,1.278], ticks:[0,.2,.4,.6,.8,1,1.2], xGap:84},
  {rows:[...cd200Rows,...cd200CoreRows], trend:[[.31,1.48],[2.74,2.29]], title:'Cor=0.3 (p-value=1.159e-26)', ylabel:'CD200 expression', rect:[453,1639.4,450.4,373], y:[.19,2.56], ticks:[.5,1,1.5,2,2.5], xGap:85},
  {rows:[...tnfrsf8Rows,...tnfrsf8CoreRows], trend:[[.31,.32],[2.74,1.04]], title:'Cor=0.27 (p-value=1.003e-21)', ylabel:'TNFRSF8 expression', rect:[1170,1639.4,451,373], y:[-.08,2.114], ticks:[0,.5,1,1.5,2], xGap:85}
];
const riskTicks = [.5,1,1.5,2,2.5];
const OFFSET = .2, HALF = .18;

const expand = rows => rows.flatMap(([y,...xs]) => xs.map(x => [x,y]));
const boxSeries = (name, boxes, off, color) => ({
  name, type:'custom', xAxisIndex:0, yAxisIndex:0, z:3, clip:false,
  encode:{x:0,y:[1,2,3,4,5]},
  data: boxes.map((b,i) => [i+off,...b]),
  itemStyle:{color},
  renderItem(params, api){
    const x = api.value(0), lo = api.coord([x,api.value(1)]), q1 = api.coord([x,api.value(2)]), md = api.coord([x,api.value(3)]), q3 = api.coord([x,api.value(4)]), hi = api.coord([x,api.value(5)]);
    const L = api.coord([x-HALF,0])[0], R = api.coord([x+HALF,0])[0];
    const st = {stroke:color, lineWidth:2.6, fill:'none'};
    const line = (x1,y1,x2,y2) => ({type:'line', shape:{x1,y1,x2,y2}, style:st});
    return {type:'group', children:[
      line(lo[0],lo[1],lo[0],q1[1]), line(hi[0],hi[1],hi[0],q3[1]),
      {type:'rect', shape:{x:L,y:q3[1],width:R-L,height:q1[1]-q3[1]}, style:st},
      line(L,md[1],R,md[1])
    ]};
  }
});
const outlierSeries = (outliers, off, color) => ({
  type:'scatter', xAxisIndex:0, yAxisIndex:0, z:2, symbolSize:14, progressive:0, silent:true,
  itemStyle:{color, opacity:1},
  data: outliers.flatMap((vs,i) => vs.map(v => [i+off,v]))
});

const option = {
  animation:false, backgroundColor:'#fff',
  textStyle:{fontFamily:FONT},
  title:[
    {text:'A', left:6, top:4, padding:0, textStyle:{fontFamily:FONT,fontSize:58,fontWeight:'bold',color:'#000'}},
    {text:'B', left:6, top:900, padding:0, textStyle:{fontFamily:FONT,fontSize:58,fontWeight:'bold',color:'#000'}},
    {text:'Type', left:899, top:13, padding:0, textStyle:{fontFamily:FONT,fontSize:30,fontWeight:'normal',color:'#000'}},
    ...panels.map(p => ({text:p.title, left:p.rect[0]+p.rect[2]/2, top:p.rect[1]-62, padding:0, textAlign:'center', textStyle:{fontFamily:FONT,fontSize:22,fontWeight:'bold',color:'#000'}}))
  ],
  legend:{left:985, top:7, padding:0, itemWidth:36, itemHeight:38, itemGap:17, selectedMode:false,
    textStyle:{fontFamily:FONT,fontSize:26,color:'#000',padding:[0,0,0,16]},
    data:[
      {name:'high', icon:'path://M18,0L18,8M0,8L36,8L36,31L0,31ZM0,19L36,19M18,31L18,38', itemStyle:{color:'none',borderColor:RED,borderWidth:3}},
      {name:'low', icon:'path://M18,0L18,8M0,8L36,8L36,31L0,31ZM0,19L36,19M18,31L18,38', itemStyle:{color:'none',borderColor:BLUE,borderWidth:3}}
    ]},
  grid:[
    {left:152, top:97, width:1801, height:538},
    ...panels.map(p => ({left:p.rect[0], top:p.rect[1], width:p.rect[2], height:p.rect[3], show:true, borderColor:'#000', borderWidth:2, backgroundColor:'transparent'}))
  ],
  xAxis:[
    {type:'value', gridIndex:0, min:-.587, max:38.565, splitLine:{show:false},
     axisLine:{show:true,onZero:false,lineStyle:{color:'#000',width:3}},
     axisTick:{show:true,length:9,customValues:genes.map((_,i)=>i),lineStyle:{color:'#000',width:2.5}},
     axisLabel:{show:true,customValues:genes.map((_,i)=>i),rotate:58,margin:15,verticalAlign:'top',fontSize:32,color:'#000',fontFamily:FONT,hideOverlap:false,formatter:v=>genes[v]}},
    ...panels.map((p,i) => ({type:'value', gridIndex:i+1, min:.224, max:2.826, splitLine:{show:false},
      name:'riskScore expression', nameLocation:'middle', nameGap:p.xGap, nameTextStyle:{fontFamily:FONT,fontSize:22,color:'#000'},
      axisLine:{show:false,onZero:false},
      axisTick:{show:true,length:13,customValues:riskTicks,lineStyle:{color:'#000',width:2}},
      axisLabel:{show:true,customValues:riskTicks,margin:30,fontSize:22,color:'#000',fontFamily:FONT,formatter:v=>v.toFixed(1)}}))
  ],
  yAxis:[
    {type:'value', gridIndex:0, min:-.375, max:7.96, splitLine:{show:false},
     name:'Gene expression', nameLocation:'middle', nameGap:40, nameTextStyle:{fontFamily:FONT,fontSize:31.5,color:'#000'},
     axisLine:{show:true,onZero:false,lineStyle:{color:'#000',width:3}},
     axisTick:{show:true,length:8,customValues:[0,2,4,6],lineStyle:{color:'#000',width:2.5}},
     axisLabel:{show:true,customValues:[0,2,4,6],margin:13,fontSize:32,color:'#000',fontFamily:FONT}},
    ...panels.map((p,i) => ({type:'value', gridIndex:i+1, min:p.y[0], max:p.y[1], splitLine:{show:false},
      name:p.ylabel, nameLocation:'middle', nameGap:79, nameTextStyle:{fontFamily:FONT,fontSize:22,color:'#000'},
      axisLine:{show:false,onZero:false},
      axisTick:{show:true,length:13,customValues:p.ticks,lineStyle:{color:'#000',width:2}},
      axisLabel:{show:true,customValues:p.ticks,rotate:90,margin:28,fontSize:22,color:'#000',fontFamily:FONT,formatter:v=>v.toFixed(1)}}))
  ],
  series:[
    outlierSeries(highOutliers,-OFFSET,RED),
    outlierSeries(lowOutliers,OFFSET,BLUE),
    boxSeries('high',highBoxes,-OFFSET,RED),
    boxSeries('low',lowBoxes,OFFSET,BLUE),
    {type:'scatter', xAxisIndex:0, yAxisIndex:0, symbolSize:1, itemStyle:{color:'transparent'}, silent:true,
     data:stars.map((s,i)=>[i,7.74]),
     label:{show:true, position:'inside', color:'#000', fontFamily:FONT, fontSize:28, formatter:p=>stars[p.dataIndex]}},
    ...panels.flatMap((p,i) => [
      {type:'scatter', xAxisIndex:i+1, yAxisIndex:i+1, symbolSize:11, progressive:0, silent:true, itemStyle:{color:BLUE,opacity:1}, data:expand(p.rows)},
      {type:'line', xAxisIndex:i+1, yAxisIndex:i+1, symbol:'none', silent:true, lineStyle:{color:'#ee4055',width:1.6}, data:p.trend, z:5}
    ])
  ]
};
const chart = echarts.init(document.getElementById('c'), null, {renderer:'canvas', width:1963, height:2124});
chart.setOption(option);
</script></body></html>
